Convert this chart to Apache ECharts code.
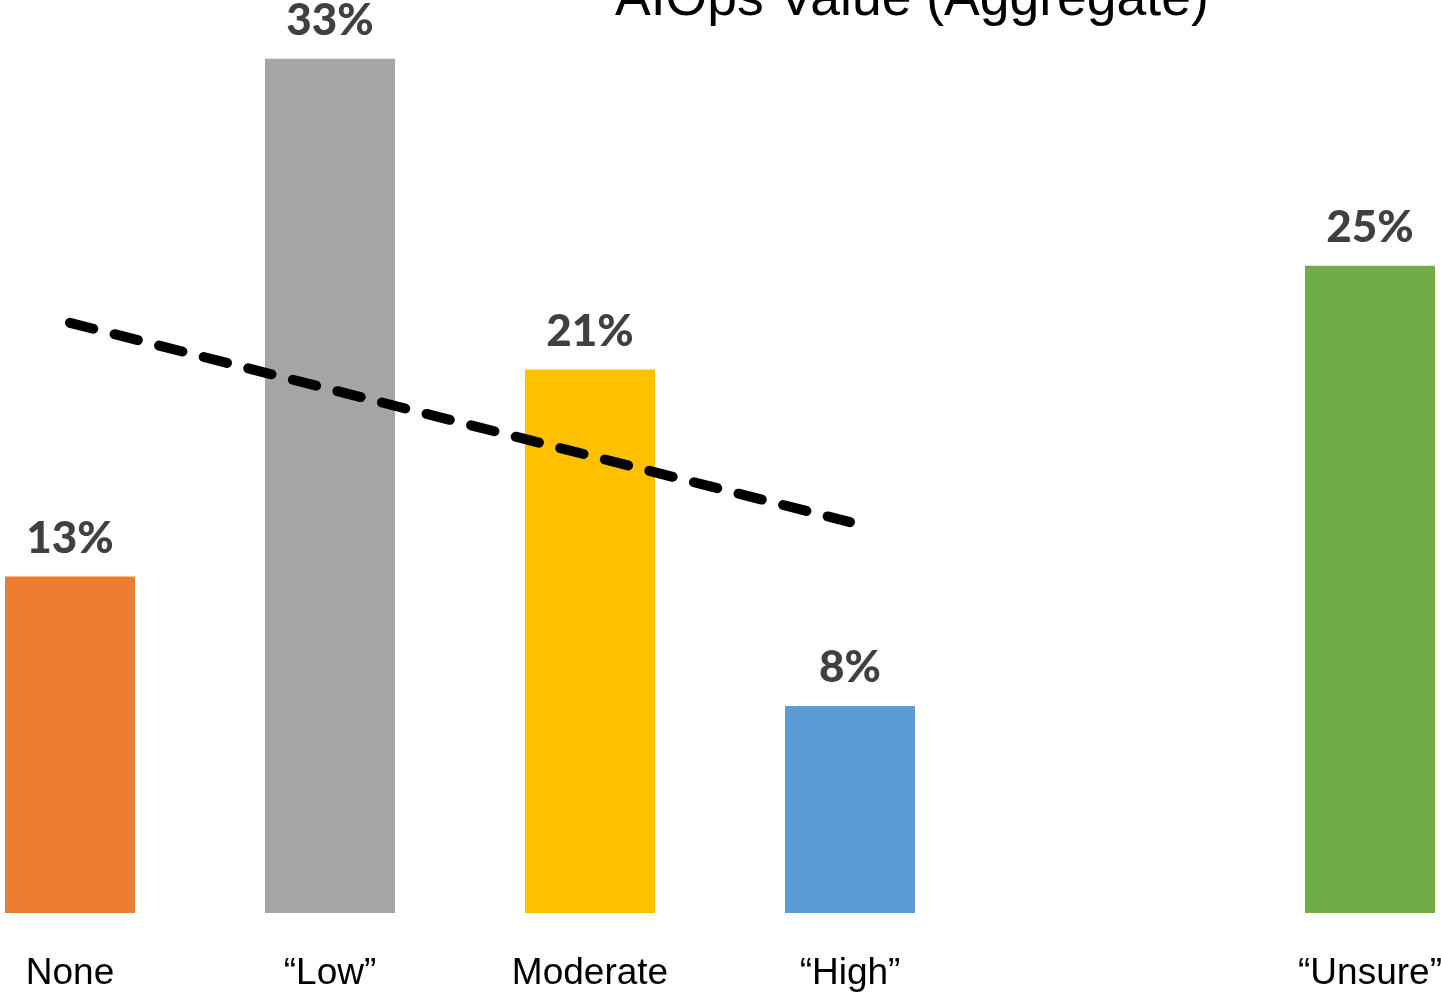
<!DOCTYPE html>
<html>
<head>
<meta charset="utf-8">
<title>AIOps Value (Aggregate)</title>
<script src="https://cdn.jsdelivr.net/npm/echarts@6/dist/echarts.min.js"></script>
<style>
  html, body { margin: 0; padding: 0; background: #ffffff; }
  #chart { width: 1441px; height: 994px; }
</style>
</head>
<body>
<div id="chart"></div>
<script>
// Survey responses: perceived AIOps value
const titleText = 'AIOps Value (Aggregate)';
const categories = ['None', '\u201CLow\u201D', 'Moderate', '\u201CHigh\u201D', '', '\u201CUnsure\u201D'];
const shares = [13, 33, 21, 8, '-', 25];
const barColors = ['#ED7D31', '#A5A5A5', '#FFC000', '#5B9BD5', '#ffffff', '#70AD47'];
// Linear trend across None .. "High" (start and end points)
const trendPoints = [[0, 22.8], [3, 15.1]];

const chart = echarts.init(document.getElementById('chart'), null, { renderer: 'canvas' });

chart.setOption({
  backgroundColor: '#ffffff',
  animation: false,
  grid: { left: 70, width: 1300, top: 7, bottom: 81, containLabel: false, outerBoundsMode: 'none' },
  graphic: [{
    type: 'text',
    left: 915 - 300,
    top: -27,
    style: {
      text: titleText,
      width: 600,
      align: 'center',
      x: 300,
      fontFamily: 'Liberation Sans, Arial, sans-serif',
      fontSize: 53.5,
      fill: '#000000'
    }
  }],
  xAxis: {
    type: 'category',
    data: categories,
    boundaryGap: false,
    axisLine: { show: false },
    axisTick: { show: false },
    splitLine: { show: false },
    axisLabel: {
      interval: 0,
      margin: 42,
      color: '#000000',
      fontFamily: 'Liberation Sans, Arial, sans-serif',
      fontSize: 37
    }
  },
  yAxis: {
    type: 'value',
    min: 0,
    max: 35,
    show: false,
    splitLine: { show: false }
  },
  series: [
    {
      type: 'bar',
      barWidth: 130,
      clip: false,
      data: shares.map((v, i) => ({ value: v, itemStyle: { color: barColors[i] } })),
      label: {
        show: true,
        position: 'top',
        distance: 16,
        formatter: p => p.value + '%',
        color: '#404040',
        fontFamily: 'Lato, Open Sans, sans-serif',
        fontWeight: 900,
        fontSize: 44
      },
      z: 2
    },
    {
      type: 'line',
      data: trendPoints,
      symbol: 'none',
      clip: false,
      lineStyle: {
        color: '#000000',
        width: 10,
        type: [24, 22],
        cap: 'round'
      },
      z: 3
    }
  ]
});
</script>
</body>
</html>
